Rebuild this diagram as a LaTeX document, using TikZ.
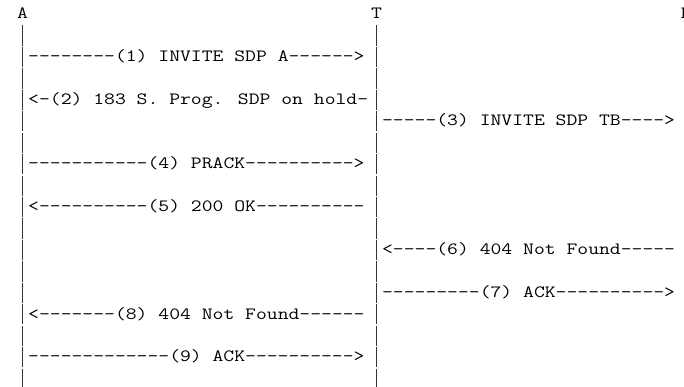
\documentclass[tikz,border=0pt]{standalone}
\usepackage{fontspec}
\newfontfamily\asciifont{Latin Modern Mono}
\newcommand\asctext[1]{\scalebox{1.2248}[1]{#1}}
\begin{document}
\begin{tikzpicture}[x=1pt,y=-1pt,
  row/.style={anchor=base west,inner sep=0pt,outer sep=0pt,text=black,
    font=\asciifont\fontsize{17.2}{21.45}\selectfont},
  lifeline/.style={line width=1.1pt,draw=black!80}]
\useasboundingbox (0,0) rectangle (684,386);
% column c left edge: 6.1+11.06*c ; row k baseline: 18.7+21.45*k
\node[row] (hA) at ({6.1+11.06*1},{18.7}) {\asctext{A}};
\node[row] (hT) at ({6.1+11.06*33},{18.7}) {\asctext{T}};
\node[row] (hB) at ({6.1+11.06*61},{18.7}) {\asctext{B}};
% lifelines (the | characters of each row)
\foreach \k in {1,...,17}{
  \draw[lifeline] ({6.1+11.06*1.5},{3.3+21.45*\k+0.6}) -- ({6.1+11.06*1.5},{3.3+21.45*(\k+1)-0.6});
  \draw[lifeline] ({6.1+11.06*33.5},{3.3+21.45*\k+0.6}) -- ({6.1+11.06*33.5},{3.3+21.45*(\k+1)-0.6});
}
\node[row] (m1) at ({6.1+11.06*2},{18.7+21.45*2}) {\asctext{--------(1) INVITE SDP A------>}};
\node[row] (m2) at ({6.1+11.06*2},{18.7+21.45*4}) {\asctext{<-(2) 183 S. Prog. SDP on hold-}};
\node[row] (m3) at ({6.1+11.06*34},{18.7+21.45*5}) {\asctext{-----(3) INVITE SDP TB---->}};
\node[row] (m4) at ({6.1+11.06*2},{18.7+21.45*7}) {\asctext{-----------(4) PRACK---------->}};
\node[row] (m5) at ({6.1+11.06*2},{18.7+21.45*9}) {\asctext{<----------(5) 200 OK----------}};
\node[row] (m6) at ({6.1+11.06*34},{18.7+21.45*11}) {\asctext{<----(6) 404 Not Found-----}};
\node[row] (m7) at ({6.1+11.06*34},{18.7+21.45*13}) {\asctext{---------(7) ACK---------->}};
\node[row] (m8) at ({6.1+11.06*2},{18.7+21.45*14}) {\asctext{<-------(8) 404 Not Found------}};
\node[row] (m9) at ({6.1+11.06*2},{18.7+21.45*16}) {\asctext{-------------(9) ACK---------->}};
\end{tikzpicture}
\end{document}
